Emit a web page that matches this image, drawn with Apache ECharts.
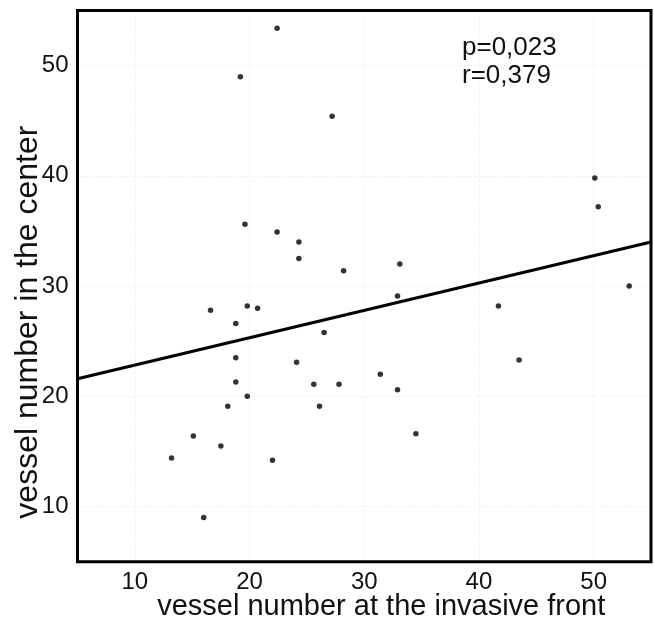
<!DOCTYPE html>
<html>
<head>
<meta charset="utf-8">
<script src="https://cdn.jsdelivr.net/npm/echarts@6/dist/echarts.min.js"></script>
<style>
html,body{margin:0;padding:0;background:#fff;}
#chart{width:654px;height:621px;}
</style>
</head>
<body>
<div id="chart"></div>
<script>
// Vessel number at the invasive front (x) vs. vessel number in the center (y)
var xFront = [22.4, 19.2, 27.2, 50.1, 50.4, 19.6, 22.4, 24.3, 24.3, 33.1, 28.2, 53.1,
              32.9, 19.8, 41.7, 20.7, 16.6, 18.8, 26.5, 18.8, 43.5, 24.1, 31.4, 18.8,
              25.6, 27.8, 32.9, 19.8, 18.1, 26.1, 34.5, 15.1, 17.5, 13.2, 22.0, 16.0];
var yCenter = [53.4, 49.0, 45.4, 39.8, 37.2, 35.6, 34.9, 34.0, 32.5, 32.0, 31.4, 30.0,
               29.1, 28.2, 28.2, 28.0, 27.8, 26.6, 25.8, 23.5, 23.3, 23.1, 22.0, 21.3,
               21.1, 21.1, 20.6, 20.0, 19.1, 19.1, 16.6, 16.4, 15.5, 14.4, 14.2, 9.0];
// Regression line end points
var fitX = [5, 55];
var fitY = [21.6, 34.0];
// Tick labels shown
var xTicks = [10, 20, 30, 40, 50];
var yTicks = [10, 20, 30, 40, 50];
var statLines = ['p=0,023', 'r=0,379'];
var xTitle = 'vessel number at the invasive front';
var yTitle = 'vessel number in the center';

var points = xFront.map(function (x, i) { return [x, yCenter[i]]; });
var fitLine = fitX.map(function (x, i) { return [x, fitY[i]]; });

var FONT = '"Liberation Sans", Arial, Helvetica, sans-serif';

function tickFmt(list) {
  return function (v) {
    for (var i = 0; i < list.length; i++) {
      if (Math.abs(list[i] - v) < 1e-6) return String(list[i]);
    }
    return '';
  };
}

var chart = echarts.init(document.getElementById('chart'), null, {renderer: 'canvas'});
chart.setOption({
  animation: false,
  backgroundColor: '#ffffff',
  grid: {
    left: 77.5, right: 3, top: 10.5, bottom: 59.3,
    containLabel: false, outerBoundsMode: 'none',
    show: true, borderColor: '#000', borderWidth: 3, backgroundColor: 'transparent', z: 10
  },
  xAxis: {
    type: 'value', min: 5, max: 55, splitNumber: 5,
    axisLine: {show: false},
    axisTick: {show: false},
    splitLine: {show: true, showMinLine: false, showMaxLine: false,
                lineStyle: {color: '#f3f3f3', type: 'dashed', width: 1}},
    axisLabel: {
      show: true, color: '#111', fontSize: 24, fontFamily: FONT, margin: 9,
      showMinLabel: false, showMaxLabel: false, formatter: tickFmt(xTicks)
    },
    name: xTitle, nameLocation: 'middle', nameGap: 31, nameMoveOverlap: false,
    nameTextStyle: {color: '#111', fontSize: 29, fontFamily: FONT, padding: [0, 0, 0, 34]}
  },
  yAxis: {
    type: 'value', min: 5, max: 55, splitNumber: 5,
    axisLine: {show: false},
    axisTick: {show: false},
    splitLine: {show: true, showMinLine: false, showMaxLine: false,
                lineStyle: {color: '#f3f3f3', type: 'dashed', width: 1}},
    axisLabel: {
      show: true, color: '#111', fontSize: 24, fontFamily: FONT, margin: 9,
      showMinLabel: false, showMaxLabel: false, formatter: tickFmt(yTicks)
    },
    name: yTitle, nameLocation: 'middle', nameGap: 33, nameMoveOverlap: false,
    nameTextStyle: {color: '#111', fontSize: 32, fontFamily: FONT, padding: [0, 72, 0, 0]}
  },
  graphic: [
    {type: 'text', left: 462, top: 35, silent: true, z: 20,
     style: {text: statLines[0], fill: '#111', font: '26px ' + FONT}},
    {type: 'text', left: 462, top: 63, silent: true, z: 20,
     style: {text: statLines[1], fill: '#111', font: '26px ' + FONT}}
  ],
  series: [
    {
      type: 'line', data: fitLine, showSymbol: false, symbol: 'none',
      lineStyle: {color: '#000', width: 3.2}, z: 2, silent: true
    },
    {
      type: 'scatter', data: points, symbol: 'circle', symbolSize: 5.5,
      itemStyle: {color: '#000'}, z: 3, silent: true
    }
  ]
});
</script>
</body>
</html>
